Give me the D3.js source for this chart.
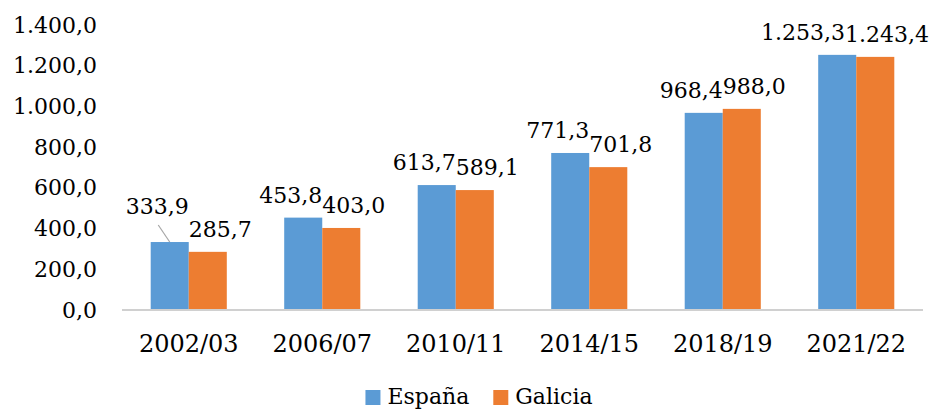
<!DOCTYPE html>
<html>
<head>
<meta charset="utf-8">
<script src="https://cdn.jsdelivr.net/npm/d3@7"></script>
<style>
  html, body { margin: 0; padding: 0; background: #fff; }
  svg { display: block; font-family: "DejaVu Serif", serif; }
</style>
</head>
<body>
<svg id="chart" width="930" height="409"></svg>
<script>
// Academic years
const categories = ["2002/03", "2006/07", "2010/11", "2014/15", "2018/19", "2021/22"];
// Series names
const seriesNames = ["España", "Galicia"];
// Values per series
const espana  = [333.9, 453.8, 613.7, 771.3, 968.4, 1253.3];
const galicia = [285.7, 403.0, 589.1, 701.8, 988.0, 1243.4];
// Y axis ticks
const yTicks = [0, 200, 400, 600, 800, 1000, 1200, 1400];

const colors = ["#5B9BD5", "#ED7D31"];
const seriesValues = [espana, galicia];

// Spanish number format: thousands ".", decimals ","
const locale = d3.formatLocale({ decimal: ",", thousands: ".", grouping: [3], currency: ["", "€"] });
const fmt = locale.format(",.1f");

const W = 930;
const svg = d3.select("#chart");

const x0 = d3.scaleBand().domain(categories).range([122, 923]).paddingInner(0.43).paddingOuter(0.215);
const x1 = d3.scaleBand().domain(seriesNames).range([0, x0.bandwidth()]);
const y = d3.scaleLinear().domain([0, 1400]).range([310, 25]);

// Y axis labels (no axis line, no ticks)
const yAxis = svg.append("g").attr("transform", "translate(97,0)")
  .call(d3.axisLeft(y).tickValues(yTicks).tickFormat(fmt).tickSize(0).tickPadding(0));
yAxis.select(".domain").remove();
yAxis.selectAll("text").attr("font-family", "DejaVu Serif").attr("font-size", 22).attr("fill", "#000").attr("dy", "0.32em");

// Bars
const rows = categories.map((c, i) => ({ cat: c, vals: seriesNames.map((s, k) => ({ s, k, v: seriesValues[k][i] })) }));
const groups = svg.append("g").selectAll("g").data(rows).join("g")
  .attr("transform", d => `translate(${x0(d.cat)},0)`);
groups.selectAll("rect").data(d => d.vals).join("rect")
  .attr("x", d => x1(d.s))
  .attr("width", x1.bandwidth())
  .attr("y", d => y(d.v))
  .attr("height", d => y(0) - y(d.v))
  .attr("fill", d => colors[d.k]);

// Category axis: baseline + labels
const xAxis = svg.append("g").attr("transform", `translate(0,${y(0)})`)
  .call(d3.axisBottom(x0).tickSize(0).tickPadding(0));
xAxis.select(".domain").attr("stroke", "#d0d0d0").attr("stroke-width", 2)
  .attr("d", `M${x0.range()[0]},0H${x0.range()[1]}`);
xAxis.selectAll("text").attr("font-family", "DejaVu Serif").attr("font-size", 24).attr("fill", "#000")
  .attr("dy", null).attr("y", 42);

// Value labels: placed above each bar, pairs pushed apart where they collide
const labelLayer = svg.append("g").attr("font-size", 22).attr("fill", "#000");
const labelGap = 15;
const manualLift = { "0-0": 13 };   // first España label raised with a leader line
rows.forEach((row, i) => {
  const placed = row.vals.map(d => {
    const cx = x0(row.cat) + x1(d.s) + x1.bandwidth() / 2;
    const t = labelLayer.append("text").attr("text-anchor", "middle").text(fmt(d.v));
    const w = t.node().getComputedTextLength();
    const lift = manualLift[`${d.k}-${i}`] || 0;
    return { t, cx, w, barTop: y(d.v), base: y(d.v) - labelGap - lift, lift, barX: cx };
  });
  const [a, b] = placed;
  const overlap = (a.cx + a.w / 2) - (b.cx - b.w / 2);
  if (overlap > 0) { a.cx -= overlap / 2; b.cx += overlap / 2; }
  // keep the pair inside the drawing area
  const spill = (b.cx + b.w / 2) - (W - 1);
  if (spill > 0) { a.cx -= spill; b.cx -= spill; }
  placed.forEach(p => {
    p.t.attr("x", p.cx).attr("y", p.base);
    if (p.lift > 0) {
      labelLayer.append("line")
        .attr("x1", p.cx + 1).attr("y1", p.base + 11)
        .attr("x2", p.barX).attr("y2", p.barTop)
        .attr("stroke", "#a6a6a6").attr("stroke-width", 1.2);
    }
  });
});

// Legend
const legend = svg.append("g").attr("font-size", 22);
const items = seriesNames.map((name, k) => {
  const g = legend.append("g");
  g.append("rect").attr("width", 15).attr("height", 15).attr("y", 390).attr("fill", colors[k]);
  const t = g.append("text").attr("x", 22).attr("y", 404).attr("fill", "#000").text(name);
  return { g, w: 22 + t.node().getComputedTextLength() };
});
const gapItems = 24;
const total = d3.sum(items, d => d.w) + gapItems * (items.length - 1);
let lx = 479 - total / 2;
items.forEach(it => { it.g.attr("transform", `translate(${lx},0)`); lx += it.w + gapItems; });
</script>
</body>
</html>
